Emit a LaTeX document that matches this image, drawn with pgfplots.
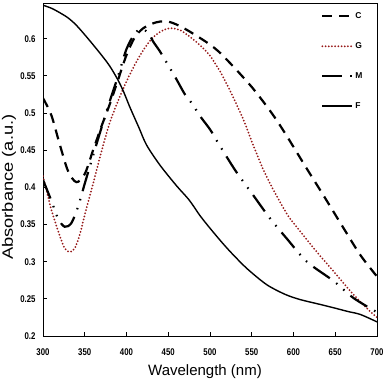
\documentclass[border=0pt]{standalone}
\usepackage{pgfplots}
\pgfplotsset{compat=1.18}
\usepackage{fontspec}
\setmainfont{Liberation Sans}
\definecolor{gred}{HTML}{961818}
\begin{document}
\begin{tikzpicture}
\useasboundingbox (-43pt,-47pt) rectangle (344pt,336pt);
\begin{axis}[
  at={(0,0)}, anchor=south west,
  scale only axis, width=334pt, height=333pt,
  xmin=300, xmax=700, ymin=0.2, ymax=0.648,
  xtick={300,350,400,450,500,550,600,650,700},
  ytick={0.2,0.25,0.3,0.35,0.4,0.45,0.5,0.55,0.6},
  scaled ticks=false,
  tick align=inside,
  xtick pos=bottom, ytick pos=left,
  major tick length=4pt,
  axis line style={line width=0.9pt},
  tick style={line width=0.8pt, black},
  /pgf/number format/assume math mode=true,
  tick label style={font=\fontsize{7.8}{9}\selectfont\bfseries},
  xticklabel={\scalebox{1}[1.25]{\pgfmathprintnumber{\tick}}},
  yticklabel={\scalebox{1}[1.25]{\pgfmathprintnumber{\tick}}},
  xticklabel style={yshift=-9pt},
  yticklabel style={xshift=-4pt},
  xlabel={Wavelength (nm)},
  ylabel={\scalebox{1.22}[1]{Absorbance (a.u.)}},
  label style={font=\fontsize{15}{17}\selectfont},
  xlabel style={at={(axis description cs:0.485,0)}, anchor=base, yshift=-39pt},
  ylabel style={at={(axis description cs:-0.102,0.447)}, anchor=center},
  legend style={at={(axis cs:633,0.638)}, anchor=north west, draw=none, fill=none,
    font=\fontsize{8.5}{10}\selectfont\bfseries, row sep=18.5pt, inner sep=0pt,
    cells={anchor=west}},
  legend image code/.code={\draw[#1] (0pt,0pt) -- (30pt,0pt);},
]
% C
\addplot[black, line width=2.2pt, dash pattern=on 10pt off 7pt, smooth, tension=0.5] coordinates {
(300,0.520) (310,0.497) (320,0.458) (330,0.422) (340,0.407) (350,0.418)
(360,0.450) (370,0.482) (380,0.512) (390,0.545) (400,0.578) (410,0.602)
(420,0.614) (430,0.620) (440,0.623) (450,0.623) (460,0.619) (472,0.612)
(488,0.601) (500,0.592) (512,0.581) (530,0.560) (550,0.535) (568,0.509)
(580,0.490) (592,0.469) (604,0.447) (616,0.425) (636,0.389) (660,0.345)
(680,0.309) (700,0.280)};
\addlegendentry{C}
% G
\addplot[gred, line width=2pt, line cap=round, dash pattern=on 0pt off 3.2pt, smooth, tension=0.5] coordinates {
(300,0.415) (310,0.370) (320,0.335) (326,0.318) (332,0.313) (338,0.318)
(344,0.336) (350,0.363) (360,0.405) (370,0.448) (380,0.487) (392,0.522)
(404,0.552) (416,0.577) (428,0.597) (440,0.609) (452,0.614) (465,0.611)
(480,0.599) (490,0.589) (500,0.577) (512,0.556) (524,0.530) (540,0.491) (552,0.456)
(565,0.421) (580,0.388) (594,0.361) (608,0.341) (628,0.313) (648,0.287)
(670,0.258) (690,0.235) (700,0.225)};
\addlegendentry{G}
% M
\addplot[black, line width=2.2pt, dash pattern=on 20pt off 8pt on 1.5pt off 8pt on 1.5pt off 8pt, smooth, tension=0.5] coordinates {
(300,0.410) (310,0.382) (318,0.358) (326,0.347) (334,0.352) (342,0.374)
(350,0.405) (360,0.443) (370,0.480) (380,0.516) (390,0.550) (400,0.586)
(410,0.607) (418,0.613) (426,0.608) (432,0.596) (440,0.583) (448,0.568)
(460,0.545) (470,0.525) (479,0.512) (488,0.496) (500,0.478) (508,0.463)
(520,0.441) (532,0.420) (552,0.389) (572,0.358) (592,0.331) (616,0.300)
(648,0.274) (672,0.251) (700,0.232)};
\addlegendentry{M}
% F
\addplot[black, line width=1.4pt, smooth, tension=0.5] coordinates {
(300,0.645) (310,0.641) (320,0.635) (330,0.628) (340,0.618) (354,0.600)
(370,0.578) (380,0.563) (389,0.546) (396,0.530) (404,0.508) (415,0.480)
(424,0.457) (440,0.430) (460,0.402) (475,0.383) (488,0.362) (500,0.345)
(515,0.325) (528,0.309) (545,0.290) (568,0.269) (590,0.256) (608,0.249)
(630,0.243) (648,0.238) (665,0.233) (680,0.229) (700,0.219)};
\addlegendentry{F}
\end{axis}
\end{tikzpicture}
\end{document}
